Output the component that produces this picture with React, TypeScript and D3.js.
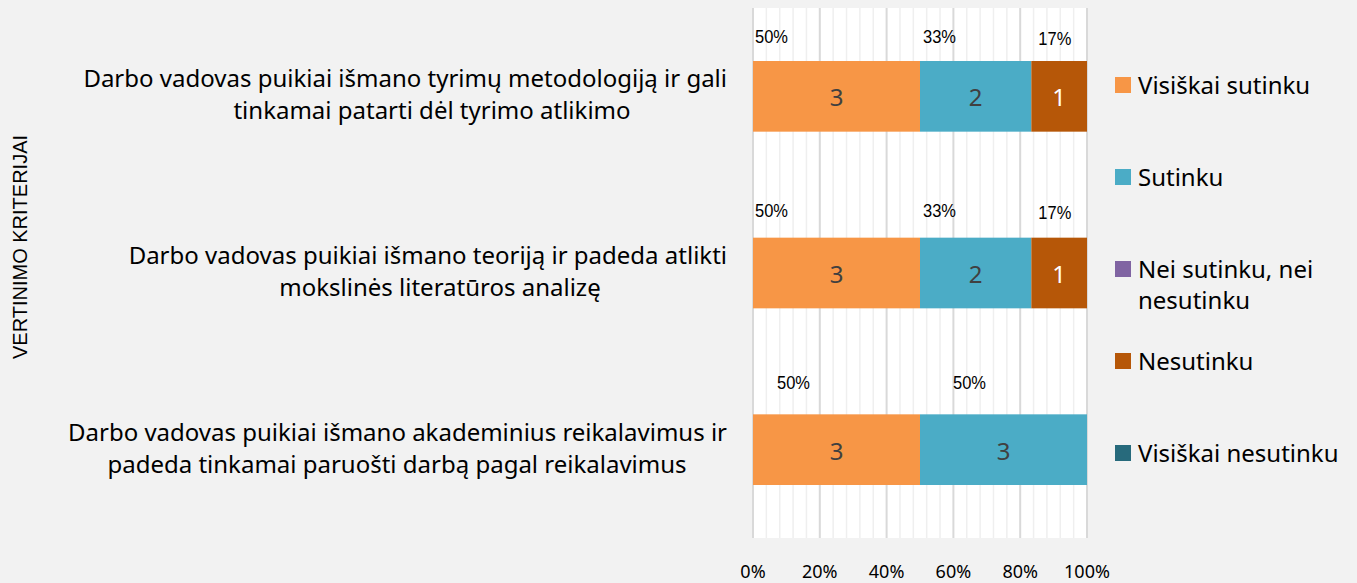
import React, {useEffect, useRef} from "react";
import * as d3 from "d3";

const categories = [
    ["Darbo vadovas puikiai išmano tyrimų metodologiją ir gali", "tinkamai patarti dėl tyrimo atlikimo"],
    ["Darbo vadovas puikiai išmano teoriją ir padeda atlikti", "mokslinės literatūros analizę"],
    ["Darbo vadovas puikiai išmano akademinius reikalavimus ir", "padeda tinkamai paruošti darbą pagal reikalavimus"],
];
const seriesNames = ["Visiškai sutinku", "Sutinku", "Nei sutinku, nei nesutinku", "Nesutinku", "Visiškai nesutinku"];
const legendLines = [["Visiškai sutinku"], ["Sutinku"], ["Nei sutinku, nei", "nesutinku"], ["Nesutinku"], ["Visiškai nesutinku"]];
const visiskaiSutinku = [3, 3, 3];
const sutinku = [2, 2, 3];
const neiSutinku = [0, 0, 0];
const nesutinku = [1, 1, 0];
const visiskaiNesutinku = [0, 0, 0];
const xTicks = [0, 0.2, 0.4, 0.6, 0.8, 1];
const colors = ["#f79646", "#4bacc6", "#8064a2", "#b65708", "#276a7c"];

export default function App() {
    const svgRef = useRef(null);
    const width = 1357;
    const height = 583;
    const plot = {left: 753, right: 1087, top: 8, bottom: 538};

    useEffect(() => {
        const svg = d3.select(svgRef.current);
        svg.selectAll("*").remove();

        const rows = categories.map((c, i) => {
            const r = {idx: i};
            const vals = [visiskaiSutinku[i], sutinku[i], neiSutinku[i], nesutinku[i], visiskaiNesutinku[i]];
            const total = d3.sum(vals);
            seriesNames.forEach((k, j) => r[k] = vals[j] / total);
            r.counts = vals;
            return r;
        });

        const series = d3.stack().keys(seriesNames)(rows);

        const x = d3.scaleLinear().domain([0, 1]).range([plot.left, plot.right]);
        const y = d3.scaleBand().domain(d3.range(categories.length)).range([plot.top, plot.bottom]).paddingInner(0.6).paddingOuter(0.3);

        svg.append("rect").attr("width", width).attr("height", height).attr("fill", "#f2f2f2");
        svg.append("rect")
            .attr("x", plot.left).attr("y", plot.top)
            .attr("width", plot.right - plot.left).attr("height", plot.bottom - plot.top)
            .attr("fill", "white");

        // minor gridlines every 4%
        svg.append("g").selectAll("line")
            .data(d3.range(0, 1.0001, 0.04).filter(v => Math.round(v * 100) % 20 !== 0))
            .enter().append("line")
            .attr("x1", d => x(d)).attr("x2", d => x(d))
            .attr("y1", plot.top).attr("y2", plot.bottom)
            .attr("stroke", "#efefef").attr("stroke-width", 1.5);
        // major gridlines
        svg.append("g").selectAll("line")
            .data(xTicks)
            .enter().append("line")
            .attr("x1", d => x(d)).attr("x2", d => x(d))
            .attr("y1", plot.top).attr("y2", plot.bottom)
            .attr("stroke", "#d9d9d9").attr("stroke-width", 2);

        // percent label nudges (manually placed in the original)
        const shiftX = [[2, 3, 7], [2, 3, 7], [24, 33, 0]];
        const shiftY = [-18, -21, -25];

        series.forEach((s, j) => {
            const segs = s.filter(d => d[1] - d[0] > 0);
            svg.append("g").selectAll("rect")
                .data(segs)
                .enter().append("rect")
                .attr("x", d => x(d[0]))
                .attr("width", d => x(d[1]) - x(d[0]))
                .attr("y", d => y(d.data.idx))
                .attr("height", y.bandwidth())
                .attr("fill", colors[j]);

            svg.append("g").selectAll("text")
                .data(segs)
                .enter().append("text")
                .attr("x", d => (x(d[0]) + x(d[1])) / 2)
                .attr("y", d => y(d.data.idx) + y.bandwidth() / 2 + 10)
                .attr("text-anchor", "middle")
                .attr("font-family", "Noto Sans")
                .attr("font-size", 24)
                .attr("fill", j === 3 ? "white" : "#404040")
                .text(d => d.data.counts[j]);

            // percentage labels above bars
            svg.append("g").selectAll("text")
                .data(segs)
                .enter().append("text")
                .attr("transform", d => {
                    const px = x(d[0]) + shiftX[d.data.idx][Math.min(j, 2)];
                    const py = y(d.data.idx) + shiftY[d.data.idx] + (j === 3 ? 2 : 0);
                    return `translate(${px},${py}) scale(1,1.12)`;
                })
                .attr("font-family", "Liberation Sans")
                .attr("font-size", 16.5)
                .attr("fill", "#000")
                .text(d => `${Math.round((d[1] - d[0]) * 100)}%`);
        });

        // x axis labels
        svg.append("g").selectAll("text")
            .data(xTicks)
            .enter().append("text")
            .attr("x", d => x(d))
            .attr("y", 572)
            .attr("dy", "0.35em")
            .attr("text-anchor", "middle")
            .attr("font-family", "Noto Sans")
            .attr("font-size", 18)
            .attr("fill", "#000")
            .text(d3.format(".0%"));

        // category labels (second line centred under the first)
        const secondCenter = [432, 440, 397];
        categories.forEach((lines, i) => {
            const cy = y(i) + y.bandwidth() / 2;
            svg.append("text")
                .attr("x", 727)
                .attr("y", cy - 9)
                .attr("text-anchor", "end")
                .attr("font-family", "Noto Sans")
                .attr("font-size", 24)
                .attr("fill", "#000")
                .text(lines[0]);
            svg.append("text")
                .attr("x", secondCenter[i])
                .attr("y", cy + 23)
                .attr("text-anchor", "middle")
                .attr("font-family", "Noto Sans")
                .attr("font-size", 24)
                .attr("fill", "#000")
                .text(lines[1]);
        });

        // y axis title
        svg.append("text")
            .attr("transform", "translate(27,247) rotate(-90)")
            .attr("text-anchor", "middle")
            .attr("font-family", "Liberation Sans")
            .attr("font-size", 20)
            .attr("fill", "#000")
            .text("VERTINIMO KRITERIJAI");

        // legend
        const legend = svg.append("g").attr("transform", "translate(1115,0)");
        legendLines.forEach((lines, i) => {
            const ly = 85 + i * 92;
            legend.append("rect")
                .attr("x", 0).attr("y", ly - 8)
                .attr("width", 16).attr("height", 16)
                .attr("fill", colors[i]);
            lines.forEach((ln, k) => {
                legend.append("text")
                    .attr("x", 23)
                    .attr("y", ly + 9 + k * 31)
                    .attr("font-family", "Noto Sans")
                    .attr("font-size", 24)
                    .attr("fill", "#000")
                    .text(ln);
            });
        });
    }, []);

    return <div style={{position: "absolute", left: 0, top: 0}}>
        <svg ref={svgRef} width={width} height={height} style={{display: "block"}}/>
    </div>;
}
